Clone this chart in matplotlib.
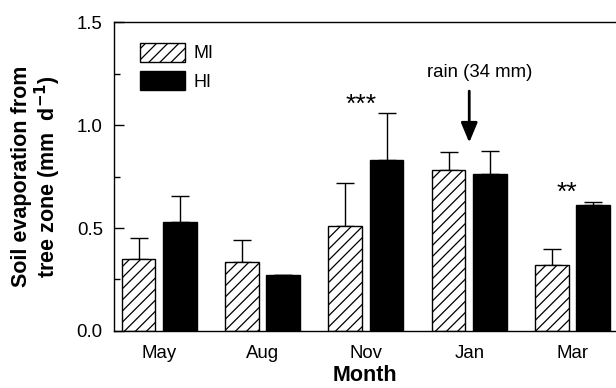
import numpy as np
import matplotlib
matplotlib.use("Agg")
import matplotlib.pyplot as plt

plt.rcParams["font.family"] = ["Liberation Sans", "DejaVu Sans"]
plt.rcParams["hatch.linewidth"] = 0.9

# ------------------------------------------------------------------
# Data
# ------------------------------------------------------------------
months = ["May", "Aug", "Nov", "Jan", "Mar"]
mi_mean = [0.35, 0.333, 0.51, 0.78, 0.319]
mi_err = [0.10, 0.11, 0.21, 0.09, 0.08]
hi_mean = [0.53, 0.272, 0.83, 0.762, 0.612]
hi_err = [0.125, 0.0, 0.23, 0.11, 0.015]

sig_labels = ["", "", "***", "", "**"]
sig_pos = [(0, 0), (0, 0), (1.95, 1.10), (0, 0), (3.95, 0.67)]

x = np.arange(len(months))
bar_width = 0.326
offset = 0.2

fig = plt.figure(figsize=(6.16, 3.88), dpi=100)
ax = fig.add_axes([0.185, 0.147, 0.815, 0.796])

ax.bar(x - offset, mi_mean, width=bar_width, color="white", edgecolor="black",
       hatch="///", linewidth=1.0, label="MI", zorder=2)
ax.bar(x + offset, hi_mean, width=bar_width, color="black", edgecolor="black",
       linewidth=1.0, label="HI", zorder=2)

ax.errorbar(x - offset, mi_mean, yerr=[np.zeros(len(x)), mi_err], fmt="none",
            ecolor="black", elinewidth=1.0, capsize=6.5, capthick=1.0, zorder=1)
ax.errorbar(x + offset, hi_mean, yerr=[np.zeros(len(x)), hi_err], fmt="none",
            ecolor="black", elinewidth=1.0, capsize=6.5, capthick=1.0, zorder=1)

# significance stars
for lab, (sx, sy) in zip(sig_labels, sig_pos):
    if lab:
        ax.text(sx, sy, lab, ha="center", va="center", fontsize=19)

# rain event
ax.text(3.1, 1.257, "rain (34 mm)", ha="center", va="center", fontsize=13.4)
ax.annotate("", xy=(3.0, 0.915), xytext=(3.0, 1.165),
            arrowprops=dict(arrowstyle="-|>,head_width=0.5,head_length=1.2",
                            color="black", lw=2.0, shrinkA=0, shrinkB=0))

ax.set_xlim(-0.4376, 4.42)
ax.set_ylim(0, 1.5)
ax.set_xticks(x)
ax.set_xticklabels(months)
ax.set_yticks([0.0, 0.5, 1.0, 1.5])
ax.set_yticks([0.25, 0.75, 1.25], minor=True)
ax.yaxis.set_major_formatter(matplotlib.ticker.FormatStrFormatter("%.1f"))
ax.tick_params(axis="y", which="major", direction="in", length=7, width=1,
               labelsize=13.4, pad=8)
ax.tick_params(axis="y", which="minor", direction="in", length=4, width=1)
ax.tick_params(axis="x", length=0, labelsize=13.4, pad=10)

ax.spines["right"].set_visible(False)
for side in ("left", "top", "bottom"):
    ax.spines[side].set_linewidth(1.0)

ax.set_xlabel("Month", fontsize=15.5, fontweight="bold", labelpad=2)
ax.set_ylabel("Soil evaporation from\ntree zone (mm  d$^{\\mathbf{-1}}$)",
              fontsize=15.5, fontweight="bold", labelpad=10, linespacing=1.05)

ax.legend(loc="upper left", bbox_to_anchor=(0.02, 0.985), frameon=False,
          fontsize=13, handlelength=2.5, handleheight=1.2, labelspacing=0.5,
          handletextpad=0.45)

fig.savefig("out.png", dpi=100)
